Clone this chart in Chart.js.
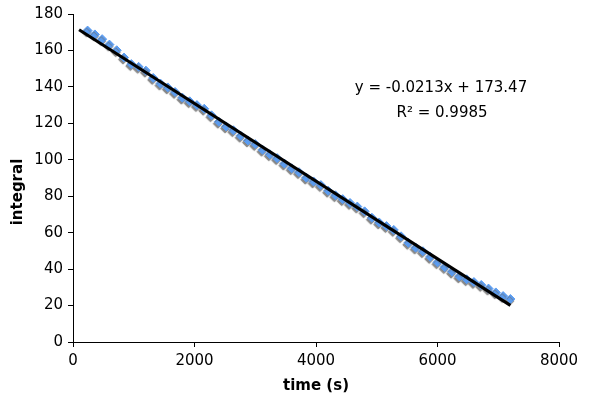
<!DOCTYPE html>
<html>
<head>
<meta charset="utf-8">
<script src="https://cdn.jsdelivr.net/npm/chart.js@4/dist/chart.umd.min.js"></script>
<style>
  html, body { margin: 0; padding: 0; background: #fff; }
  #wrap { width: 600px; height: 403px; position: relative; }
</style>
</head>
<body>
<div id="wrap"><canvas id="integralChart"></canvas></div>
<script>
// measured points (time in s, integral)
const timeValues = [
    240, 360, 480, 600, 720, 840, 960, 1080, 1200, 1320,
    1440, 1560, 1680, 1800, 1920, 2040, 2160, 2280, 2400, 2520,
    2640, 2760, 2880, 3000, 3120, 3240, 3360, 3480, 3600, 3720,
    3840, 3960, 4080, 4200, 4320, 4440, 4560, 4680, 4800, 4920,
    5040, 5160, 5280, 5400, 5520, 5640, 5760, 5880, 6000, 6120,
    6240, 6360, 6480, 6600, 6720, 6840, 6960, 7080, 7200
];
const integralValues = [
    170.9, 168.8, 166.2, 163.2, 160.1, 156.1, 152.5, 151.0, 148.9, 144.9,
    141.8, 139.7, 137.2, 134.1, 132.1, 130.0, 128.0, 124.4, 120.9, 118.3,
    116.2, 113.2, 110.6, 108.6, 105.5, 103.0, 100.9, 97.9, 95.3, 93.2,
    90.2, 88.1, 86.1, 83.0, 80.5, 78.4, 76.3, 74.3, 71.7, 68.2,
    65.6, 63.6, 61.5, 58.0, 54.4, 51.8, 49.8, 46.7, 43.7, 41.1,
    38.6, 36.0, 34.4, 32.9, 31.3, 29.3, 27.2, 25.2, 23.6
];

// linear trendline end points
const trendTime = [100, 7200];
const trendValues = [171.3, 20.1];

const equationText = 'y = -0.0213x + 173.47';
const rSquaredText = 'R\u00B2 = 0.9985';
const xTitle = 'time (s)';
const yTitle = 'integral';

const FONT = '"DejaVu Sans", Verdana, sans-serif';

const toPoints = (xs, ys) => xs.map((x, i) => ({ x: x, y: ys[i] }));

// soft grey shadow under the diamond markers
const markerShadow = {
    id: 'markerShadow',
    beforeDatasetDraw(chart, args) {
        if (args.index !== 1) return;
        const ctx = chart.ctx;
        ctx.save();
        ctx.shadowColor = 'rgba(110,110,110,0.85)';
        ctx.shadowOffsetX = -1;
        ctx.shadowOffsetY = 2;
        ctx.shadowBlur = 1;
    },
    afterDatasetDraw(chart, args) {
        if (args.index !== 1) return;
        chart.ctx.restore();
    }
};

// equation label and axis titles
const annotations = {
    id: 'annotations',
    afterDraw(chart) {
        const ctx = chart.ctx;
        const area = chart.chartArea;
        ctx.save();
        ctx.fillStyle = '#000';
        ctx.textAlign = 'center';
        ctx.textBaseline = 'middle';
        ctx.font = '15px ' + FONT;
        ctx.fillText(equationText, 441, 88);
        ctx.fillText(rSquaredText, 442, 113);

        ctx.font = 'bold 15px ' + FONT;
        ctx.fillText(xTitle, (area.left + area.right) / 2, 386);

        ctx.translate(18, 192);
        ctx.rotate(-Math.PI / 2);
        ctx.fillText(yTitle, 0, 0);
        ctx.restore();
    }
};

const tickFont = { family: FONT, size: 15 };
const plainNumber = (value) => String(value);

new Chart(document.getElementById('integralChart'), {
    type: 'scatter',
    data: {
        datasets: [{
            label: 'trend',
            type: 'line',
            data: toPoints(trendTime, trendValues),
            borderColor: '#000',
            borderWidth: 3,
            pointRadius: 0,
            fill: false,
            order: 0
        }, {
            label: 'integral',
            data: toPoints(timeValues, integralValues),
            pointStyle: 'rectRot',
            pointRadius: 4.5,
            backgroundColor: '#5b9cf0',
            borderColor: '#5b9cf0',
            borderWidth: 1,
            order: 1
        }]
    },
    options: {
        responsive: true,
        maintainAspectRatio: false,
        animation: false,
        layout: { padding: { top: 14, right: 41, bottom: 0, left: 0 } },
        plugins: {
            legend: { display: false },
            tooltip: { enabled: false }
        },
        scales: {
            x: {
                type: 'linear',
                min: 0,
                max: 8000,
                ticks: { stepSize: 2000, color: '#000', font: tickFont, padding: 5, maxRotation: 0, callback: plainNumber },
                grid: { drawOnChartArea: false, drawTicks: true, tickLength: 5, color: '#000' },
                border: { display: true, color: '#000', width: 1 },
                afterFit: (scale) => { scale.height = 61; }
            },
            y: {
                min: 0,
                max: 180,
                ticks: { stepSize: 20, color: '#000', font: tickFont, padding: 5, callback: plainNumber },
                grid: { drawOnChartArea: false, drawTicks: true, tickLength: 5, color: '#000' },
                border: { display: true, color: '#000', width: 1 },
                afterFit: (scale) => { scale.width = 73; }
            }
        }
    },
    plugins: [markerShadow, annotations]
});
</script>
</body>
</html>
